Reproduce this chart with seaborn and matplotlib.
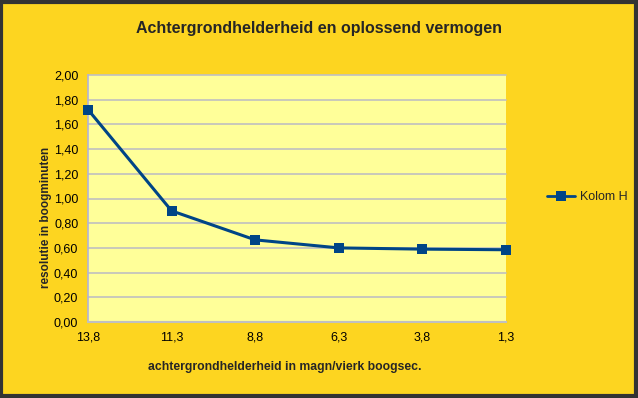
import matplotlib
matplotlib.use("Agg")
import matplotlib.pyplot as plt
import seaborn as sns
import pandas as pd
from matplotlib.patches import Rectangle
from matplotlib.lines import Line2D

x_vals = [13.8, 11.3, 8.8, 6.3, 3.8, 1.3]
y_vals = [1.72, 0.90, 0.665, 0.60, 0.59, 0.585]
x_labels = ["13,8", "11,3", "8,8", "6,3", "3,8", "1,3"]
y_ticks = [0.0, 0.2, 0.4, 0.6, 0.8, 1.0, 1.2, 1.4, 1.6, 1.8, 2.0]
series_name = "Kolom H"

sns.set_theme(style="white")
plt.rcParams['font.family'] = ['Liberation Sans', 'DejaVu Sans']

df = pd.DataFrame({"x": x_vals, "y": y_vals, "s": series_name})

fig = plt.figure(figsize=(6.38, 3.98), dpi=100)
fig.patch.set_facecolor("#FDD520")
ax = fig.add_axes([88/638, 1-322/398, (506-88)/638, (322-75)/398])
ax.set_facecolor("#FFFF99")

for t in y_ticks[1:]:
    ax.axhline(t, color="#C0C0C0", lw=1.2, zorder=1)

sns.lineplot(data=df, x="x", y="y", hue="s", palette=["#004586"], marker="s",
             markersize=7, markeredgewidth=0, lw=2.2, ax=ax, zorder=3, legend=False)
for ln in ax.get_lines():
    ln.set_clip_on(False)

ax.set_xlim(13.8, 1.3)
ax.set_ylim(0, 2.0)
ax.set_xticks(x_vals)
ax.set_xticklabels(x_labels)
ax.set_yticks(y_ticks)
ax.set_yticklabels([f"{t:.2f}".replace(".", ",") for t in y_ticks])
ax.tick_params(axis="both", labelsize=9, colors="black", length=4, width=1, direction="out", pad=3)
ax.tick_params(axis="both", color="#B0B0B0")
for side in ["top", "right"]:
    ax.spines[side].set_visible(False)
ax.spines["left"].set_color("#B3B3D9")
ax.spines["bottom"].set_color("#C0C0C0")
ax.spines["left"].set_linewidth(1.2)
ax.spines["bottom"].set_linewidth(1.5)
ax.set_xlabel("")
ax.set_ylabel("")

fig.text(319/638, 1-29/398, "Achtergrondhelderheid en oplossend vermogen",
         ha="center", va="center", fontsize=11.5, fontweight="bold")
fig.text(285/638, 1-367/398, "achtergrondhelderheid in magn/vierk boogsec.",
         ha="center", va="center", fontsize=8.8, fontweight="bold")
fig.text(46/638, 1-217/398, "resolutie in boogminuten", rotation=90,
         ha="center", va="center", fontsize=8.5, fontweight="bold")

h = Line2D([], [], color="#004586", lw=2, marker="s", markersize=7, markeredgewidth=0)
leg = fig.legend([h], [series_name], loc="center left", bbox_to_anchor=(536/638, 1-197/398),
                 frameon=False, fontsize=9, handlelength=2.2, handletextpad=0.4)

fig.patches.append(Rectangle((0.002, 0.004), 0.995, 0.992, transform=fig.transFigure,
                             fill=False, edgecolor="#333333", lw=3))

fig.savefig("out.png", dpi=100, facecolor=fig.get_facecolor())
